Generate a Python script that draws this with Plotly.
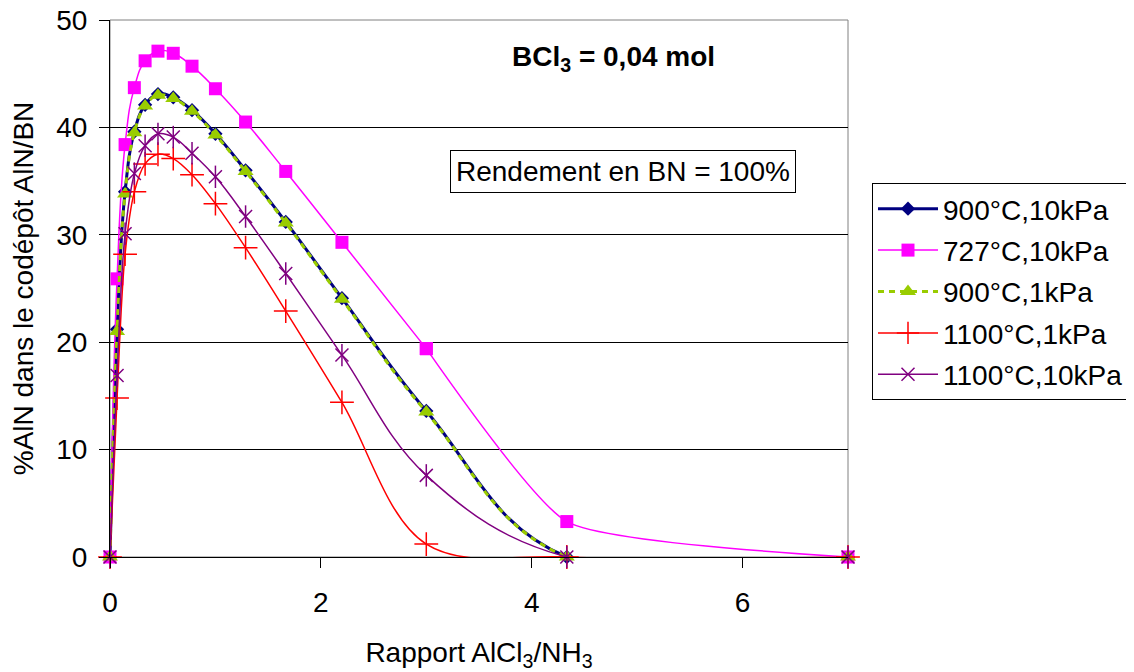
import plotly.graph_objects as go

# Data
ratio = [0, 0.067, 0.143, 0.231, 0.333, 0.455, 0.6, 0.778, 1.0, 1.286, 1.667, 2.2, 3.0, 4.333, 7.0]
s900_10 = [0, 21.2, 34.0, 39.6, 42.1, 43.1, 42.8, 41.6, 39.4, 36.0, 31.2, 24.1, 13.6, 0.0, 0]
s727_10 = [0, 25.9, 38.4, 43.7, 46.2, 47.1, 46.9, 45.7, 43.6, 40.5, 35.9, 29.3, 19.4, 3.3, 0]
s900_1 = [0, 21.0, 33.8, 39.5, 42.0, 43.0, 42.7, 41.5, 39.3, 35.9, 31.1, 24.0, 13.5, 0.0, 0]
s1100_1 = [0, 14.8, 28.2, 34.0, 36.6, 37.5, 37.1, 35.6, 32.9, 28.8, 22.9, 14.4, 1.2, 0.0, 0]
s1100_10 = [0, 16.9, 30.1, 35.7, 38.3, 39.4, 39.1, 37.6, 35.4, 31.7, 26.4, 18.8, 7.6, 0.0, 0]

names = ["900°C,10kPa", "727°C,10kPa", "900°C,1kPa", "1100°C,1kPa", "1100°C,10kPa"]
x_ticks = [0, 2, 4, 6]
y_ticks = [0, 10, 20, 30, 40, 50]

FONT = "Liberation Sans, Arial, sans-serif"
FS = 28

# page body has an 8px margin: figure is drawn offset by (8, 8)
OFF = 8
W, H = 1134 - OFF, 672 - OFF
PL, PR, PT, PB = 110, 848, 20, 557  # plot area in screen pixels

fig = go.Figure()

def add(x, y, name, color, width, symbol, msize, dash="solid", mline=None,
        smoothing=1.0, showlegend=True):
    marker = dict(symbol=symbol, size=msize, color=color)
    if mline is not None:
        marker["line"] = dict(color=color, width=mline)
    fig.add_trace(go.Scatter(
        x=x, y=y, name=name, mode="lines+markers",
        line=dict(color=color, width=width, shape="spline", smoothing=smoothing, dash=dash),
        marker=marker, cliponaxis=False, legendgroup=name, showlegend=showlegend,
    ))

add(ratio, s900_10, names[0], "#000080", 3, "diamond", 11, smoothing=1.2)
# 727°C: smooth rise/fall, then a gentler curve for the tail (x >= 3)
add(ratio[:13], s727_10[:13], names[1], "#FF00FF", 1.5, "square", 13, smoothing=1.3)
add(ratio[12:], s727_10[12:], names[1], "#FF00FF", 1.5, "square", 13,
    smoothing=0.5, showlegend=False)
add(ratio, s900_1, names[2], "#99CC00", 3, "triangle-up", 14, dash="6px,5px", smoothing=1.2)
add(ratio, s1100_1, names[3], "#FF0000", 1.5, "cross-thin-open", 17, mline=1.5)
add(ratio, s1100_10, names[4], "#800080", 1.5, "x-thin-open", 13, mline=1.5, smoothing=1.1)
# vertical stroke of the star marker (Excel-style 6-armed star)
fig.add_trace(go.Scatter(
    x=ratio, y=s1100_10, mode="markers", showlegend=False, hoverinfo="skip",
    marker=dict(symbol="line-ns-open", size=16, color="#800080", line=dict(color="#800080", width=1.5)),
    cliponaxis=False, legendgroup=names[4],
))

pw, ph = PR - PL, PB - PT

fig.update_layout(
    width=W, height=H,
    margin=dict(l=PL - OFF, r=W - (PR - OFF), t=PT - OFF, b=H - (PB - OFF), autoexpand=False),
    paper_bgcolor="white", plot_bgcolor="white",
    font=dict(family=FONT, size=FS, color="black"),
    showlegend=True,
    legend=dict(
        x=(872 - PL) / pw, y=(PB - 183) / ph, xanchor="left", yanchor="top",
        bordercolor="black", borderwidth=1, bgcolor="white",
        font=dict(family=FONT, size=FS, color="black"),
        tracegroupgap=2, itemwidth=60,
    ),
    xaxis=dict(
        range=[0, 7], tickvals=x_ticks, ticktext=[str(v) for v in x_ticks],
        showgrid=False, zeroline=False, showline=True, linecolor="black", linewidth=1,
        ticks="outside", ticklen=10, tickcolor="black", ticklabelstandoff=10,
        automargin=False,
        title=dict(text="Rapport AlCl<sub>3</sub>/NH<sub>3</sub>", font=dict(size=FS), standoff=31),
    ),
    yaxis=dict(
        range=[0, 50], tickvals=y_ticks, ticktext=[str(v) for v in y_ticks],
        showgrid=True, gridcolor="black", gridwidth=1, zeroline=False,
        showline=True, linecolor="black", linewidth=1,
        ticks="outside", ticklen=10, tickcolor="black", ticklabelstandoff=6,
        ticklabeloverflow="allow",
        automargin=False,
        title=dict(text="%AlN dans le codépôt AlN/BN", font=dict(size=FS), standoff=18),
    ),
    shapes=[dict(type="rect", xref="paper", yref="paper", x0=0, x1=1, y0=0, y1=1,
                 line=dict(color="#808080", width=1), layer="between")],
    annotations=[
        dict(text="<b>BCl<sub>3</sub> = 0,04 mol</b>", xref="paper", yref="paper",
             x=(613 - PL) / pw, y=(PB - 58) / ph, xanchor="center", yanchor="middle",
             showarrow=False, font=dict(family=FONT, size=FS, color="black")),
        dict(text="Rendement en BN = 100%", xref="paper", yref="paper",
             x=(623 - PL) / pw, y=(PB - 171) / ph, xanchor="center", yanchor="middle",
             showarrow=False, bordercolor="black", borderwidth=1, borderpad=5, bgcolor="white",
             font=dict(family=FONT, size=FS, color="black")),
    ],
)

fig.write_html("out.html")
